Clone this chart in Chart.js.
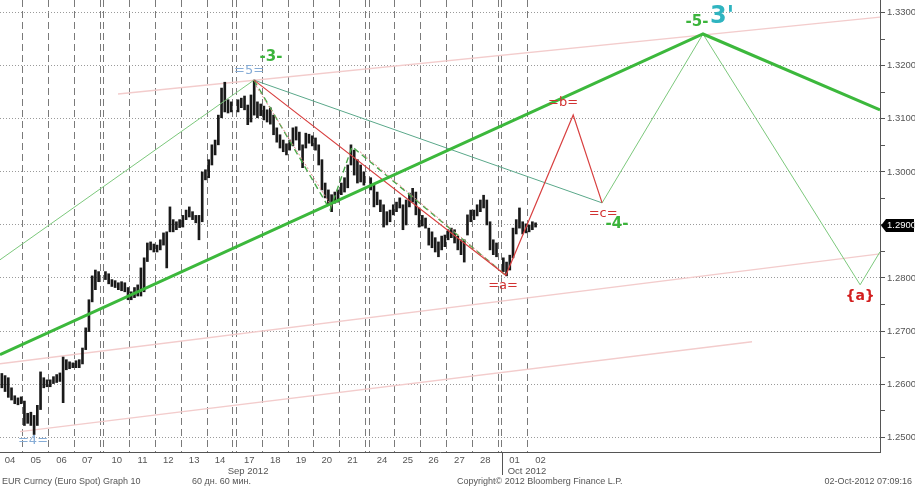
<!DOCTYPE html>
<html><head><meta charset="utf-8">
<script src="https://cdn.jsdelivr.net/npm/chart.js@4.4.0/dist/chart.umd.min.js"></script>
<style>html,body{margin:0;padding:0;background:#fff;}canvas{display:block;}</style>
</head><body>
<canvas id="c" width="915" height="487"></canvas>
<script>
// ---- categories (trading days) ----
const dayLabels = ['04','05','06','07','10','11','12','13','14','17','18','19','20','21','24','25','26','27','28','01','02'];
const dayStarts = [0,1,2,3,4.14,5.14,6.14,7.14,8.14,9.28,10.28,11.28,12.28,13.28,14.42,15.42,16.42,17.42,18.42,19.56,20.56];
const weekCloses = [4,9.14,14.28,19.42];
const monthStart = 19.56;
const monthLabels = ['Sep 2012','Oct 2012'];
const monthLabelAt = [9.73,20.54];
// ---- 3-hour bars: highs and lows per day ----
const barHighs = [
 [1.2624,1.2620,1.2616,1.2612,1.2593,1.2578,1.2574,1.2576],
 [1.2568,1.2545,1.2547,1.2541,1.2560,1.2623,1.2612,1.2608],
 [1.2608,1.2614,1.2618,1.2621,1.2651,1.2646,1.2642,1.2640],
 [1.2644,1.2646,1.2668,1.2706,1.2759,1.2804,1.2815,1.2812],
 [1.2812,1.2808,1.2797,1.2795,1.2791,1.2793,1.2791,1.2782],
 [1.2774,1.2782,1.2787,1.2819,1.2838,1.2866,1.2868,1.2864],
 [1.2862,1.2872,1.2885,1.2887,1.2934,1.2910,1.2906,1.2910],
 [1.2918,1.2928,1.2934,1.2925,1.2918,1.2918,1.3000,1.3004],
 [1.3023,1.3051,1.3060,1.3107,1.3158,1.3169,1.3136,1.3132],
 [1.3136,1.3139,1.3143,1.3126,1.3145,1.3173,1.3132,1.3128],
 [1.3124,1.3117,1.3121,1.3107,1.3083,1.3070,1.3060,1.3053],
 [1.3060,1.3083,1.3085,1.3075,1.3051,1.3073,1.3071,1.3068],
 [1.3064,1.3051,1.3023,1.2979,1.2966,1.2957,1.2962,1.2966],
 [1.2979,1.2989,1.3013,1.3051,1.3041,1.3023,1.3013,1.3000],
 [1.2989,1.2975,1.2962,1.2947,1.2938,1.2925,1.2928,1.2938],
 [1.2943,1.2951,1.2938,1.2947,1.2960,1.2969,1.2962,1.2932],
 [1.2918,1.2913,1.2894,1.2887,1.2876,1.2868,1.2879,1.2881],
 [1.2891,1.2894,1.2891,1.2879,1.2872,1.2872,1.2919,1.2928],
 [1.2928,1.2938,1.2947,1.2956,1.2947,1.2906,1.2872,1.2866],
 [1.2838,1.2830,1.2843,1.2894,1.2910,1.2932,1.2906,1.2902],
 [1.2900,1.2906,1.2904]
];
const barLows = [
 [1.2599,1.2593,1.2586,1.2575,1.2570,1.2563,1.2561,1.2563],
 [1.2522,1.2526,1.2522,1.2505,1.2522,1.2552,1.2593,1.2595],
 [1.2595,1.2601,1.2603,1.2605,1.2565,1.2627,1.2629,1.2631],
 [1.2631,1.2631,1.2638,1.2665,1.2699,1.2755,1.2778,1.2793],
 [1.2797,1.2789,1.2784,1.2782,1.2778,1.2776,1.2774,1.2759],
 [1.2759,1.2763,1.2766,1.2766,1.2774,1.2831,1.2853,1.2849],
 [1.2849,1.2853,1.2862,1.2819,1.2887,1.2887,1.2891,1.2895],
 [1.2896,1.2910,1.2915,1.2910,1.2904,1.2872,1.2906,1.2985],
 [1.2989,1.3013,1.3032,1.3051,1.3102,1.3113,1.3111,1.3113],
 [1.3113,1.3121,1.3117,1.3089,1.3094,1.3107,1.3102,1.3106],
 [1.3098,1.3094,1.3090,1.3070,1.3056,1.3045,1.3038,1.3032],
 [1.3041,1.3049,1.3060,1.3041,1.3008,1.3045,1.3054,1.3049],
 [1.3041,1.3013,1.2966,1.2951,1.2938,1.2925,1.2941,1.2943],
 [1.2957,1.2962,1.2970,1.3013,1.2994,1.2979,1.2981,1.2975],
 [1.2966,1.2934,1.2938,1.2925,1.2896,1.2900,1.2906,1.2919],
 [1.2925,1.2932,1.2891,1.2900,1.2934,1.2943,1.2919,1.2896],
 [1.2898,1.2894,1.2862,1.2857,1.2849,1.2840,1.2853,1.2859],
 [1.2872,1.2876,1.2866,1.2853,1.2844,1.2830,1.2881,1.2906],
 [1.2910,1.2917,1.2925,1.2932,1.2900,1.2853,1.2844,1.2840],
 [1.2812,1.2804,1.2815,1.2838,1.2883,1.2894,1.2883,1.2885],
 [1.2887,1.2891,1.2896]
];
const currentPrice = 1.2900;
const yTickValues = [1.25,1.255,1.26,1.265,1.27,1.275,1.28,1.285,1.29,1.295,1.30,1.305,1.31,1.315,1.32,1.325,1.33];
// ---- wave lines (x in trading-day units, y price) ----
const thickGreenX = [0.116,27.36,34.22];
const thickGreenY = [1.26554,1.32599,1.31168];
const thinGreenX = [0.116,9.96];
const thinGreenY = [1.28343,1.3173];
const tealX = [9.96,23.45];
const tealY = [1.3173,1.29416];
const projGreenX = [23.45,27.36,33.45,34.22];
const projGreenY = [1.29416,1.32599,1.27872,1.28493];
const redX = [9.96,19.72,22.33,23.45];
const redY = [1.3173,1.2805,1.31073,1.29416];
const dashGreenX = [9.96,12.91,13.76,19.72];
const dashGreenY = [1.3173,1.29284,1.30475,1.2805];
const dotRed1X = [10.04,12.98], dotRed1Y = [1.3162,1.2934];
const dotRed2X = [14.07,19.61], dotRed2Y = [1.3038,1.2810];
const pinkTopX = [4.69,34.22], pinkTopY = [1.31468,1.32919];
const pinkMidX = [0.116,34.22], pinkMidY = [1.26383,1.28455];
const pinkLowX = [0.891,29.26], pinkLowY = [1.25103,1.26798];
// ---- wave labels ----
const waveText = ['=4=','=5=','-3-','=b=','=c=','-4-','=a=','-5-',"3'",'{a}'];
const waveX = [1.395,9.77,10.62,21.94,23.49,24.03,19.61,27.13,28.1,33.45];
const waveY = [1.2494,1.3190,1.3217,1.3130,1.2921,1.2902,1.2786,1.3283,1.3292,1.2766];
const waveColor = ['#86acd6','#86acd6','#3cb43c','#d23232','#d23232','#3cb43c','#d23232','#3cb43c','#2fb4c0','#d21e1e'];
const waveFont = ['13px "DejaVu Sans"','13px "DejaVu Sans"','bold 15px "DejaVu Sans"','13px "DejaVu Sans"','13px "DejaVu Sans"','bold 15px "DejaVu Sans"','13px "DejaVu Sans"','bold 15px "DejaVu Sans"','bold 24px "DejaVu Sans"','bold 14px "DejaVu Sans"'];

const pts = (xs,ys)=>xs.map((x,i)=>({x:x,y:ys[i]}));
const bars = [];
barHighs.forEach((hs,d)=>hs.forEach((h,s)=>bars.push({x:dayStarts[d]+(s+0.5)/8, y:[barLows[d][s],h]})));

function line(data,color,width,dash,order){
  return {type:'line',data:data,borderColor:color,borderWidth:width,borderDash:dash||[],pointRadius:0,tension:0,fill:false,order:order,xAxisID:'x',yAxisID:'y'};
}
const datasets = [
  line(pts(pinkTopX,pinkTopY),'#f3cccc',1.3,null,20),
  line(pts(pinkMidX,pinkMidY),'#f3cccc',1.3,null,20),
  line(pts(pinkLowX,pinkLowY),'#f3cccc',1.3,null,20),
  {type:'bar',data:bars,backgroundColor:'#1a1a1a',borderWidth:0,barThickness:2,grouped:false,order:10,xAxisID:'x',yAxisID:'y'},
  line(pts(dotRed1X,dotRed1Y),'#e08a8a',1,[2,2],3),
  line(pts(dotRed2X,dotRed2Y),'#e08a8a',1,[2,2],3),
  line(pts(dashGreenX,dashGreenY),'#4aa84a',1.4,[6,4],3),
  line(pts(thinGreenX,thinGreenY),'#7cc87c',1,null,2),
  line(pts(tealX,tealY),'#5aa88a',1,null,2),
  line(pts(projGreenX,projGreenY),'#7cc87c',1,null,2),
  line(pts(redX,redY),'#d84040',1.2,null,1),
  line(pts(thickGreenX,thickGreenY),'#3cb83c',3,null,0)
];

const xTicks = [];
dayStarts.slice(1).forEach(v=>xTicks.push({value:v,lbl:''}));
weekCloses.forEach(v=>xTicks.push({value:v,lbl:''}));
dayLabels.forEach((l,i)=>xTicks.push({value:dayStarts[i]+0.5,lbl:l}));
xTicks.sort((a,b)=>a.value-b.value);

const deco = {
  id:'deco',
  afterDatasetsDraw(chart){
    const ctx=chart.ctx, sx=chart.scales.x, sy=chart.scales.y;
    ctx.save();
    ctx.textAlign='center'; ctx.textBaseline='middle';
    waveText.forEach((t,i)=>{
      ctx.font=waveFont[i]; ctx.fillStyle=waveColor[i];
      ctx.fillText(t, sx.getPixelForValue(waveX[i]), sy.getPixelForValue(waveY[i]));
    });
    ctx.restore();
  },
  afterDraw(chart){
    const ctx=chart.ctx, sx=chart.scales.x, sy=chart.scales.y, a=chart.chartArea;
    ctx.save();
    const yv=Math.round(sy.getPixelForValue(currentPrice))+0.5;
    ctx.fillStyle='#000';
    ctx.beginPath(); ctx.moveTo(a.right+1,yv); ctx.lineTo(a.right+6,yv-6.5); ctx.lineTo(914,yv-6.5); ctx.lineTo(914,yv+6.5); ctx.lineTo(a.right+6,yv+6.5); ctx.closePath(); ctx.fill();
    ctx.fillStyle='#fff'; ctx.font='9.5px "Liberation Sans"'; ctx.textAlign='left'; ctx.textBaseline='middle';
    ctx.fillText(currentPrice.toFixed(4), a.right+7, yv);
    const mx=Math.round(sx.getPixelForValue(monthStart))+0.5;
    ctx.strokeStyle='#555'; ctx.lineWidth=1;
    ctx.beginPath(); ctx.moveTo(mx,a.bottom); ctx.lineTo(mx,a.bottom+23); ctx.stroke();
    ctx.fillStyle='#555'; ctx.font='9.5px "Liberation Sans"'; ctx.textAlign='center'; ctx.textBaseline='middle';
    monthLabels.forEach((m,i)=>ctx.fillText(m, sx.getPixelForValue(monthLabelAt[i]), a.bottom+19));
    ctx.font='9px "Liberation Sans"'; ctx.textBaseline='middle'; ctx.fillStyle='#555';
    ctx.textAlign='left';
    ctx.fillText('EUR Curncy (Euro Spot) Graph 10', 2, 482);
    ctx.fillText('60 дн. 60 мин.', 192, 482);
    ctx.fillText('Copyright\u00A9 2012 Bloomberg Finance L.P.', 457, 482);
    ctx.textAlign='right';
    ctx.fillText('02-Oct-2012 07:09:16', 912, 482);
    ctx.restore();
  }
};

new Chart(document.getElementById('c'),{
  data:{datasets:datasets},
  options:{
    responsive:false, animation:false, devicePixelRatio:1,
    layout:{padding:0},
    plugins:{legend:{display:false},tooltip:{enabled:false}},
    scales:{
      x:{type:'linear',position:'bottom',min:0.116,max:34.22,offset:false,
        afterBuildTicks:s=>{s.ticks=xTicks.map(t=>({value:t.value,lbl:t.lbl}));},
        afterFit:s=>{s.height=35;s.paddingLeft=0;s.paddingRight=0;},
        ticks:{autoSkip:false,maxRotation:0,minRotation:0,padding:3,color:'#555',font:{family:'Liberation Sans',size:9.5},
          callback:(v,i,t)=>t[i].lbl},
        grid:{offset:false,drawTicks:false,lineWidth:1,color:c=>(c.tick&&c.tick.lbl)?'rgba(0,0,0,0)':'#7a7a7a'},
        border:{display:true,color:'#555',width:1,dash:[7,4]}
      },
      y:{type:'linear',position:'right',min:1.2472,max:1.3324,
        afterBuildTicks:s=>{s.ticks=yTickValues.map(v=>({value:v}));},
        afterFit:s=>{s.width=35;s.paddingTop=0;s.paddingBottom=0;},
        ticks:{padding:2,color:'#555',font:{family:'Liberation Sans',size:9.5},
          callback:v=>(Math.round(v*1000)%10===0)?v.toFixed(4):''},
        grid:{offset:false,drawTicks:true,tickLength:5,lineWidth:1,
          color:c=>(c.tick&&Math.round(c.tick.value*1000)%10===0)?'#9a9a9a':'rgba(0,0,0,0)',
          tickColor:'#555'},
        border:{display:true,color:'#555',width:1,dash:[1,2]}
      }
    }
  },
  plugins:[deco]
});
</script>
</body></html>
